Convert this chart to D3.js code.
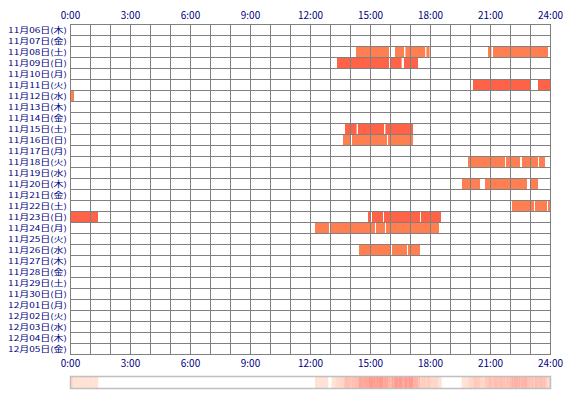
<!DOCTYPE html>
<html><head><meta charset="utf-8">
<script src="https://cdn.jsdelivr.net/npm/d3@7/dist/d3.min.js"></script>
<style>
html,body{margin:0;padding:0;background:#fff;}
svg{display:block;}
text{font-family:"Noto Sans CJK JP","DejaVu Sans",sans-serif;fill:#000080;}
</style></head><body>
<svg id="c" width="570" height="400"></svg>
<script>
const days = ["11月06日(木)","11月07日(金)","11月08日(土)","11月09日(日)","11月10日(月)","11月11日(火)","11月12日(水)","11月13日(木)","11月14日(金)","11月15日(土)","11月16日(日)","11月17日(月)","11月18日(火)","11月19日(水)","11月20日(木)","11月21日(金)","11月22日(土)","11月23日(日)","11月24日(月)","11月25日(火)","11月26日(水)","11月27日(木)","11月28日(金)","11月29日(土)","11月30日(日)","12月01日(月)","12月02日(火)","12月03日(水)","12月04日(木)","12月05日(金)"];
const hourTicks = [0,3,6,9,12,15,18,21,24];
const tickLabels = ["0:00","3:00","6:00","9:00","12:00","15:00","18:00","21:00","24:00"];
// segments: [dayIndex, startHour, endHour, colorKind] (0 = coral, 1 = tomato)
const segDay   = [2,2,2,2,2,2, 3,3,3, 5,5, 6, 9,9,9, 10,10,10, 12,12,12,12, 14,14,14, 16,16,16, 17,17,17,17,17, 18,18,18,18, 20,20,20];
const segStart = [14.3,16.25,16.77,17.82,20.9,21.15, 13.35,16.05,16.7, 20.15,23.4, 0, 13.75,14.4,15.77, 13.65,14.1,15.9, 19.9,21.8,22.6,23.45, 19.6,20.75,23.05, 22.1,23.25,23.9, 0,14.9,15.1,15.7,17.55, 12.25,13.05,15.3,15.8, 14.45,16.1,16.9];
const segEnd   = [15.95,16.7,17.76,17.98,21.07,23.9, 15.95,16.58,17.4, 23.0,24, 0.2, 14.33,15.7,17.15, 14.0,15.85,17.15, 21.75,22.5,23.4,23.75, 20.5,22.85,23.4, 23.2,23.85,24, 1.4,15.05,15.65,17.5,18.55, 12.95,15.25,15.75,18.45, 16.0,16.85,17.5];
const segKind  = [0,0,0,0,0,0, 1,1,1, 1,1, 0, 1,1,1, 0,0,0, 0,0,0,0, 0,0,0, 0,0,0, 1,1,1,1,1, 0,0,0,0, 0,0,0];
const kindColors = ["#FF7F50","#FF6347"];

const svg = d3.select("#c");
const x = d3.scaleLinear().domain([0,24]).range([70,550]);
const y = d3.scaleBand().domain(d3.range(days.length)).range([24,354]).padding(0);

// bars
const segs = segDay.map((d,i)=>({d, s:segStart[i], e:segEnd[i], k:segKind[i]}));
svg.append("g").selectAll("rect").data(segs).join("rect")
  .attr("x", d=>x(d.s)).attr("width", d=>x(d.e)-x(d.s))
  .attr("y", d=>y(d.d)).attr("height", y.bandwidth())
  .attr("fill", d=>kindColors[d.k]);

// grid
const g = svg.append("g").attr("stroke","#808080").attr("stroke-width",1.4).attr("fill","none")
  .attr("shape-rendering","crispEdges");
g.selectAll("line.v").data(d3.range(0,25)).join("line").attr("class","v")
  .attr("x1",h=>x(h)+0.5).attr("x2",h=>x(h)+0.5).attr("y1",24).attr("y2",355);
g.selectAll("line.h").data(d3.range(0,days.length+1)).join("line").attr("class","h")
  .attr("x1",70).attr("x2",551).attr("y1",i=>24.5+i*y.bandwidth()).attr("y2",i=>24.5+i*y.bandwidth());

// day labels (slightly compressed vertically, like the compact bitmap font of the original)
svg.append("g").selectAll("text").data(days).join("text")
  .attr("transform",(d,i)=>`translate(67,${y(i)+y.bandwidth()/2+0.5}) scale(1,0.75)`)
  .attr("x",0).attr("y",0).attr("dy","0.36em")
  .attr("text-anchor","end").attr("font-size",10).text(d=>d);

// hour labels
const topAxis = d3.axisTop(x).tickValues(hourTicks).tickFormat((d,i)=>tickLabels[i]).tickSize(0).tickPadding(0);
const ta = svg.append("g").attr("transform","translate(0,19)").call(topAxis);
const botAxis = d3.axisBottom(x).tickValues(hourTicks).tickFormat((d,i)=>tickLabels[i]).tickSize(0).tickPadding(0);
const ba = svg.append("g").attr("transform","translate(0,360)").call(botAxis);
[ta,ba].forEach(a=>{a.select(".domain").remove();
  a.selectAll("text").attr("font-size",10).attr("fill","#000080").style("font-family",'"Noto Sans CJK JP","DejaVu Sans",sans-serif');});

// frequency strip
const bins = d3.range(0,24*12); // 5-minute bins
const counts = bins.map(b=>{const t=(b+0.5)/12; return d3.sum(segs,s=>(t>=s.s && t<s.e)?1:0);});
const maxC = d3.max(counts);
const heat = d3.scaleLinear().domain([0,1,maxC]).range(["#ffffff","#ffe2d4","#ff9a8c"]);
const bw = (x(24)-x(0))/bins.length;
svg.append("g").selectAll("rect").data(bins).join("rect")
  .attr("x",b=>x(b/12)).attr("width",bw+0.3).attr("y",377).attr("height",11)
  .attr("fill",(b,i)=>heat(counts[i]));
svg.append("rect").attr("x",70.5).attr("y",376.5).attr("width",480).attr("height",12)
  .attr("fill","none").attr("stroke","#c0c0c0").attr("stroke-width",1.5);
</script></body></html>
